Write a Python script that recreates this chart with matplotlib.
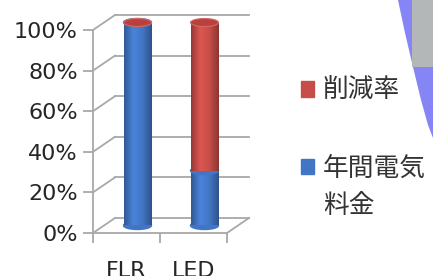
import numpy as np
import matplotlib
matplotlib.use('Agg')
import matplotlib.pyplot as plt
from matplotlib.patches import Ellipse, Polygon, Rectangle
from matplotlib.colors import LinearSegmentedColormap

categories = ['FLR', 'LED']
cost_share = [100, 27]     # 年間電気料金
reduction = [0, 73]        # 削減率
y_ticks = [0, 20, 40, 60, 80, 100]
legend_labels = ['削減率', '年間電気']
legend_wrap = '料金'       # second line of the blue legend label

blue = '#4276c4'
red = '#c64d49'
grid_color = '#a8a8a8'

plt.rcParams['font.family'] = ['DejaVu Sans', 'Noto Sans CJK JP']

W, H = 433, 276
fig = plt.figure(figsize=(W / 100, H / 100), dpi=100)
ax = fig.add_axes([93 / W, 43 / H, 134 / W, 203 / H])
ax.set_xlim(-0.5, 1.5)
ax.set_ylim(0, 100)
x = np.arange(len(categories))

# perspective offsets in data units (depth of the 3d box)
px_x = 134 / 2.0
px_y = 203 / 100.0
DX = 22 / px_x
DY = 15 / px_y
bar_w = 28 / px_x
cap_h = 8 / px_y

# back wall, side wall and floor lines
for t in y_ticks:
    ax.plot([-0.5 + DX, 1.5 + DX], [t + DY, t + DY], color=grid_color, lw=1.3,
            clip_on=False, zorder=1)
    ax.plot([-0.5, -0.5 + DX], [t, t + DY], color=grid_color, lw=1.3,
            clip_on=False, zorder=1)
ax.plot([1.5, 1.5 + DX], [0, DY], color=grid_color, lw=1.3, clip_on=False, zorder=1)


def shade(patch, base):
    x0, y0 = patch.get_xy()
    w, h = patch.get_width(), patch.get_height()
    rgb = np.array(matplotlib.colors.to_rgb(base))
    cmap = LinearSegmentedColormap.from_list(
        '', [rgb * 0.75, np.minimum(rgb * 1.12, 1), rgb, rgb * 0.7])
    grad = np.linspace(0, 1, 64).reshape(1, -1)
    im = ax.imshow(grad, extent=[x0, x0 + w, y0, y0 + h], aspect='auto',
                   cmap=cmap, zorder=patch.get_zorder() + 0.1, interpolation='bilinear')
    im.set_clip_box(None)
    im.set_clip_path(patch)


xc = x + DX / 2
base = DY / 2
for i in range(len(categories)):
    ax.add_patch(Ellipse((xc[i], base), bar_w, cap_h, color=blue, zorder=2, clip_on=False))

low = ax.bar(xc, cost_share, width=bar_w, bottom=base, color=blue, zorder=3, clip_on=False)
for i, p in enumerate(low):
    shade(p, blue)
    ax.add_patch(Ellipse((xc[i], base + cost_share[i]), bar_w, cap_h, color=blue,
                         zorder=4, clip_on=False))

high = ax.bar(xc, reduction, width=bar_w, bottom=np.array(cost_share) + base,
              color=red, zorder=5, clip_on=False)
for i, p in enumerate(high):
    if reduction[i] > 0:
        shade(p, red)
    top = base + cost_share[i] + reduction[i]
    ax.add_patch(Ellipse((xc[i], top), bar_w, cap_h, facecolor='#b8413d',
                         edgecolor='#d46a66', lw=0.8, zorder=7, clip_on=False))

ax.set_xlim(-0.5, 1.5)
ax.set_ylim(0, 100)

for s in ['top', 'right']:
    ax.spines[s].set_visible(False)
for s in ['left', 'bottom']:
    ax.spines[s].set_color(grid_color)
    ax.spines[s].set_linewidth(1.3)

ax.set_yticks(y_ticks, [f'{t}%' for t in y_ticks])
ax.tick_params(axis='y', direction='out', length=7, width=1.3, color=grid_color,
               labelsize=16, pad=4, labelcolor='#262626')
ax.set_xticks(x, categories)
ax.tick_params(axis='x', which='major', length=0, labelsize=16, pad=20,
               labelcolor='#262626')
ax.set_xticks([-0.5, 0.5, 1.5], minor=True)
ax.tick_params(axis='x', which='minor', direction='out', length=7, width=1.3,
               color=grid_color)

# legend
cjk = {'family': ['Noto Sans CJK JP'], 'size': 18.5}
handles = [Rectangle((0, 0), 1, 1, color=red), Rectangle((0, 0), 1, 1, color=blue)]
leg = fig.legend(handles, legend_labels, loc='upper left',
                 bbox_to_anchor=(301 / W, 1 - 78 / H), frameon=False, prop=cjk,
                 handlelength=0.5, handleheight=0.55, handletextpad=0.35,
                 labelspacing=2.0, borderpad=0, borderaxespad=0, labelcolor='#333333')
fig.canvas.draw()
bb = leg.get_texts()[1].get_window_extent()
fig.text(bb.x0 / W, (bb.y0 - 38) / H, legend_wrap, fontdict=cjk, color='#333333',
         ha='left', va='bottom')

# slide decoration at top right
curve = [(398, 0), (405, 33), (413, 67), (421, 100), (428, 125), (433, 138), (433, 0)]
fig.patches.append(Polygon([(px / W, 1 - py / H) for px, py in curve], closed=True,
                           transform=fig.transFigure, facecolor='#8585f5',
                           edgecolor='none', zorder=0))
fig.patches.append(Rectangle((412 / W, 1 - 67 / H), 21 / W, 67 / H,
                             transform=fig.transFigure, facecolor='#b4b7b7',
                             edgecolor='none', zorder=1))

fig.savefig('out.png', dpi=100)
